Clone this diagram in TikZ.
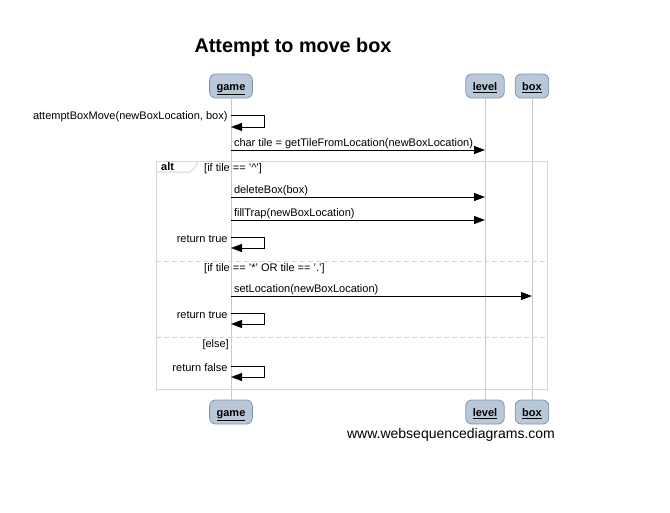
\documentclass[tikz,border=0pt]{standalone}
\usepackage{fontspec}
\setmainfont{Liberation Sans}
\usetikzlibrary{positioning,calc,arrows.meta}
\definecolor{actorfill}{HTML}{B9C8D8}
\definecolor{actordraw}{HTML}{8097B0}
\definecolor{lifegray}{HTML}{C8C8C8}
\definecolor{framegray}{HTML}{D6D6D6}
\tikzstyle{every node}=[font=\fontsize{11}{13}\selectfont]
\tikzstyle{actor}=[draw=actordraw,fill=actorfill,rounded corners=6pt,minimum height=24pt,inner xsep=7pt,text height=11pt,text depth=2pt,line width=0.8pt,font=\fontsize{11}{13}\selectfont\bfseries]
\tikzstyle{msg}=[-{Triangle[length=11pt,width=8pt]},line width=1pt]
\tikzstyle{life}=[draw=lifegray,line width=0.8pt]
\tikzstyle{frame}=[draw=framegray,line width=1pt]
\tikzstyle{lbl}=[above right,inner sep=0.5pt,xshift=2pt]
\tikzstyle{selflbl}=[left,inner sep=3pt,yshift=-1.5pt]

\begin{document}
\begin{tikzpicture}[x=1pt,y=-1pt]
\useasboundingbox[fill=white] (0,0) rectangle (670,512);

\node[font=\fontsize{19.8}{23}\selectfont\bfseries] (title) at (293,47) {Attempt to move box};

% actors top and bottom
\node[actor] (game) at (231,86) {\underline{game}};
\node[actor] (level) at (485,86) {\underline{level}};
\node[actor] (box) at (532,86) {\underline{box}};
\node[actor] (gameB) at (231,412) {\underline{game}};
\node[actor] (levelB) at (485,412) {\underline{level}};
\node[actor] (boxB) at (532,412) {\underline{box}};

\draw[life] (game) -- (gameB);
\draw[life] (level) -- (levelB);
\draw[life] (box) -- (boxB);

% alt frame
\draw[frame] (156,161) rectangle (547,389);
\draw[frame] (156,172) -- (190,172) -- (197,165) -- (197,161);
\draw[frame,dashed,dash pattern=on 5pt off 3pt] (156,261) -- (547,261);
\draw[frame,dashed,dash pattern=on 5pt off 3pt] (156,337) -- (547,337);
\node[anchor=west,font=\fontsize{11}{13}\selectfont\bfseries,inner sep=0pt] (alt) at (161,167) {alt};
\node[anchor=west,inner sep=2pt] (g1) at (202,168.5) {[if tile == '\^{}']};
\node[anchor=west,inner sep=2pt] (g2) at (202,268.5) {[if tile == '*' OR tile == '.']};
\node[anchor=east,inner sep=2pt] (g3) at (231,344.5) {[else]};

% messages
\coordinate (a1) at (game |- 0,115);
\coordinate (a2) at (game |- 0,127);
\draw[msg] (a1) node[selflbl]{attemptBoxMove(newBoxLocation, box)} -- ++(33,0) |- (a2);

\coordinate (b1) at (game |- 0,150);
\coordinate (b2) at (level |- 0,150);
\draw[msg] (b1) node[lbl]{char tile = getTileFromLocation(newBoxLocation)} -- (b2);

\coordinate (c1) at (game |- 0,197);
\coordinate (c2) at (level |- 0,197);
\draw[msg] (c1) node[lbl]{deleteBox(box)} -- (c2);

\coordinate (d1) at (game |- 0,220);
\coordinate (d2) at (level |- 0,220);
\draw[msg] (d1) node[lbl]{fillTrap(newBoxLocation)} -- (d2);

\coordinate (e1) at (game |- 0,237);
\coordinate (e2) at (game |- 0,248);
\draw[msg] (e1) node[selflbl]{return true} -- ++(33,0) |- (e2);

\coordinate (f1) at (game |- 0,296);
\coordinate (f2) at (box |- 0,296);
\draw[msg] (f1) node[lbl]{setLocation(newBoxLocation)} -- (f2);

\coordinate (h1) at (game |- 0,313);
\coordinate (h2) at (game |- 0,324);
\draw[msg] (h1) node[selflbl]{return true} -- ++(33,0) |- (h2);

\coordinate (k1) at (game |- 0,366);
\coordinate (k2) at (game |- 0,377);
\draw[msg] (k1) node[selflbl]{return false} -- ++(33,0) |- (k2);

\node[font=\fontsize{14}{16}\selectfont] (wsd) at (451,435) {www.websequencediagrams.com};
\end{tikzpicture}
\end{document}
